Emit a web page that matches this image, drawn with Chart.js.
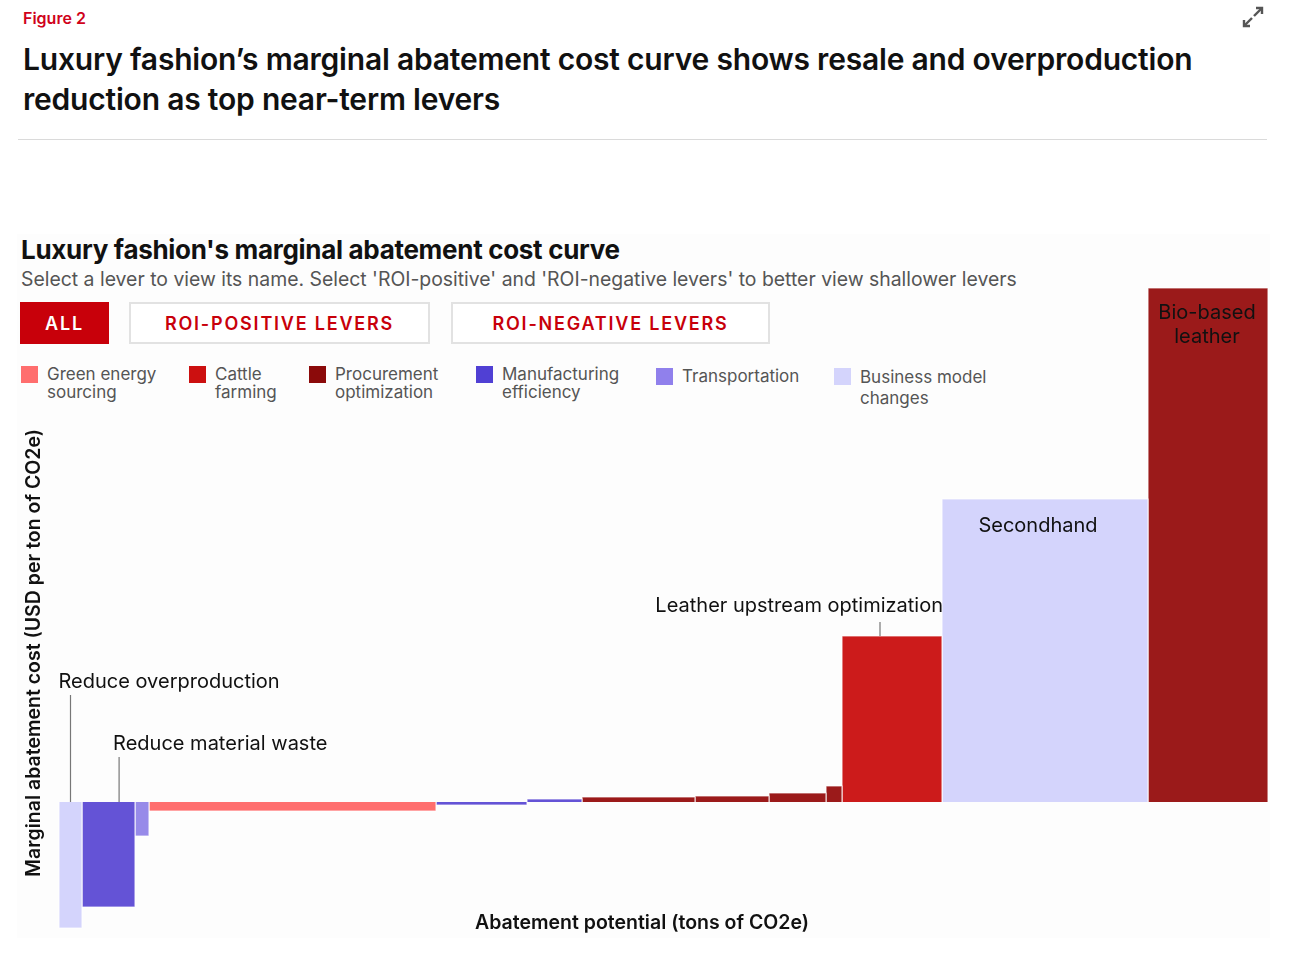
<!DOCTYPE html>
<html>
<head>
<meta charset="utf-8">
<script src="https://cdn.jsdelivr.net/npm/chart.js@4.4.1/dist/chart.umd.min.js"></script>
<style>
  body { margin: 0; background: #fff; font-family: Inter, "Noto Sans", sans-serif; color: #111; }
  .page { position: relative; width: 1302px; height: 964px; overflow: hidden; }
  .fig { position: absolute; left: 23px; top: 8px; font-size: 16px; font-weight: 600; color: #d0021b; }
  .expand { position: absolute; left: 1240px; top: 4px; }
  h1 { position: absolute; left: 23px; top: 39px; margin: 0; width: 1250px; font-size: 30px; line-height: 40px; font-weight: 600; letter-spacing: -0.2px; }
  .rule { position: absolute; left: 18px; top: 139px; width: 1249px; height: 1px; background: #dadada; }
  .panel { position: absolute; left: 17px; top: 234px; width: 1253px; height: 704px; background: #fdfdfd; }
  h2 { position: absolute; left: 21px; top: 234px; margin: 0; font-size: 26px; font-weight: 700; letter-spacing: -0.3px; }
  .desc { position: absolute; left: 21px; top: 267px; font-size: 19.4px; color: #555; }
  .btn { position: absolute; top: 302px; height: 42px; box-sizing: border-box; font-size: 18px; font-weight: 600;
         letter-spacing: 1.8px; display: flex; align-items: center; justify-content: center; }
  .btn.on { background: #c8000a; color: #fff; }
  .btn.off { background: #fff; color: #c8000a; border: 2px solid #e2e2e2; }
  .leg { position: absolute; top: 365px; font-size: 17px; line-height: 18px; color: #555; }
  .leg i { position: absolute; left: -26px; top: 1px; width: 17px; height: 17px; }
  #wrap { position: absolute; left: 0; top: 280px; width: 1302px; height: 680px; }
</style>
</head>
<body>
<div class="page">
  <div class="fig">Figure 2</div>
  <svg class="expand" width="26" height="26" viewBox="0 0 26 26">
    <g stroke="#555" stroke-width="2.4" fill="none">
      <path d="M14 12 L22 4"/><path d="M16 4 H22 V10"/>
      <path d="M12 14 L4 22"/><path d="M4 16 V22 H10"/>
    </g>
  </svg>
  <h1>Luxury fashion’s marginal abatement cost curve shows resale and overproduction reduction as top near-term levers</h1>
  <div class="rule"></div>
  <div class="panel"></div>
  <h2>Luxury fashion's marginal abatement cost curve</h2>
  <div class="desc">Select a lever to view its name. Select 'ROI-positive' and 'ROI-negative levers' to better view shallower levers</div>
  <div class="btn on" style="left:20px;width:89px;">ALL</div>
  <div class="btn off" style="left:129px;width:301px;">ROI-POSITIVE LEVERS</div>
  <div class="btn off" style="left:451px;width:319px;">ROI-NEGATIVE LEVERS</div>
  <div id="legend"></div>
  <div id="wrap"><canvas id="macc"></canvas></div>
</div>
<script>
// lever groups (legend) and their colours
const groups = ['Green energy\nsourcing', 'Cattle\nfarming', 'Procurement\noptimization',
                'Manufacturing\nefficiency', 'Transportation', 'Business model\nchanges'];
const groupColors = ['#ff6e6e', '#cc1b1b', '#9b1a1a', '#6453d6', '#978ae9', '#d4d4fc'];
const legendColors = ['#ff6e6e', '#cc1010', '#8b0a0a', '#5040d4', '#9080ec', '#d4d4fc'];

// levers, sorted by cost
const levers = ['Reduce overproduction', 'Reduce material waste', 'Transportation', 'Green energy sourcing',
                'Manufacturing efficiency', 'Manufacturing efficiency', 'Procurement optimization',
                'Procurement optimization', 'Procurement optimization', 'Procurement optimization',
                'Leather upstream optimization', 'Secondhand', 'Bio-based leather'];
const leverGroup = [5, 3, 4, 0, 3, 3, 2, 2, 2, 2, 1, 5, 2];
const potential = [23, 53, 14, 287, 91, 55, 113, 74, 57, 16, 100, 206, 120];      // abatement potential (kt CO2e)
const cost = [-126, -105, -34, -9, -3, 3, 5, 6, 9, 16, 166, 303, 514];            // USD per ton of CO2e

// html legend
const legX = [47, 215, 335, 502, 682, 860];
document.getElementById('legend').innerHTML = groups.map((g, i) =>
  `<div class="leg" style="left:${legX[i]}px;${i == 4 ? 'top:367px;' : ''}${i == 5 ? 'top:367px;line-height:21px;' : ''}">` +
  `<i style="background:${legendColors[i]}"></i>${g.replace('\n', '<br>')}</div>`).join('');

// one closed step shape per lever
let start = 0;
const datasets = levers.map((name, i) => {
  const x0 = start, x1 = start + potential[i];
  start = x1;
  return {
    label: name,
    data: [{x: x0, y: 0}, {x: x0, y: cost[i]}, {x: x1, y: cost[i]}, {x: x1, y: 0}],
    backgroundColor: groupColors[leverGroup[i]],
    borderColor: 'rgba(255,255,255,0.75)',
    borderWidth: 1.2,
    fill: 'origin',
    pointRadius: 0,
    tension: 0,
    clip: false
  };
});

// callouts
const callouts = [
  {i: 0, text: 'Reduce overproduction', at: 0.5, rise: 107, dx: -12, align: 'left'},
  {i: 1, text: 'Reduce material waste', at: 0.7, rise: 45, dx: -6, align: 'left'},
  {i: 10, text: 'Leather upstream optimization', at: 0.38, rise: 14, align: 'right'}
];
const inner = [
  {i: 11, lines: ['Secondhand'], dy: 27, dx: -7},
  {i: 12, lines: ['Bio-based', 'leather'], dy: 25, dx: -1}
];

const labelPlugin = {
  id: 'labels',
  afterDatasetsDraw(chart) {
    const {ctx, scales: {x, y}, chartArea} = chart;
    ctx.save();
    ctx.font = '20px Inter';
    ctx.fillStyle = '#111';
    ctx.textBaseline = 'middle';
    callouts.forEach(c => {
      const d = chart.data.datasets[c.i].data;
      const x0 = x.getPixelForValue(d[0].x), x1 = x.getPixelForValue(d[2].x);
      const lx = x0 + (x1 - x0) * c.at;
      const base = Math.min(y.getPixelForValue(0), y.getPixelForValue(d[1].y));
      const top = base - c.rise;
      ctx.strokeStyle = '#777';
      ctx.lineWidth = 1.2;
      ctx.beginPath(); ctx.moveTo(lx, base); ctx.lineTo(lx, top); ctx.stroke();
      if (c.align == 'left') {
        ctx.textAlign = 'left';
        ctx.fillText(c.text, lx + c.dx, top - 13);
      } else {
        ctx.textAlign = 'right';
        ctx.fillText(c.text, x1 + 1, top - 16);
      }
    });
    inner.forEach(c => {
      const d = chart.data.datasets[c.i].data;
      const cx = (x.getPixelForValue(d[0].x) + x.getPixelForValue(d[2].x)) / 2;
      const t = y.getPixelForValue(d[1].y);
      ctx.textAlign = 'center';
      c.lines.forEach((l, k) => ctx.fillText(l, cx + c.dx, t + c.dy + k * 24));
    });
    // axis titles
    ctx.font = '600 19.5px Inter';
    ctx.textAlign = 'center';
    ctx.fillText('Abatement potential (tons of CO2e)', 642, chartArea.bottom - 5);
    ctx.translate(34, chartArea.bottom - 275);
    ctx.rotate(-Math.PI / 2);
    ctx.fillText('Marginal abatement cost (USD per ton of CO2e)', 0, 0);
    ctx.restore();
  }
};

new Chart(document.getElementById('macc'), {
  type: 'line',
  data: {datasets: datasets},
  plugins: [labelPlugin],
  options: {
    responsive: true,
    maintainAspectRatio: false,
    animation: false,
    layout: {padding: {left: 59, right: 34, top: 8, bottom: 32}},
    plugins: {legend: {display: false}, tooltip: {enabled: false}},
    scales: {
      x: {type: 'linear', min: 0, max: 1209, display: false},
      y: {min: -126, max: 514, display: false}
    }
  }
});
</script>
</body>
</html>
